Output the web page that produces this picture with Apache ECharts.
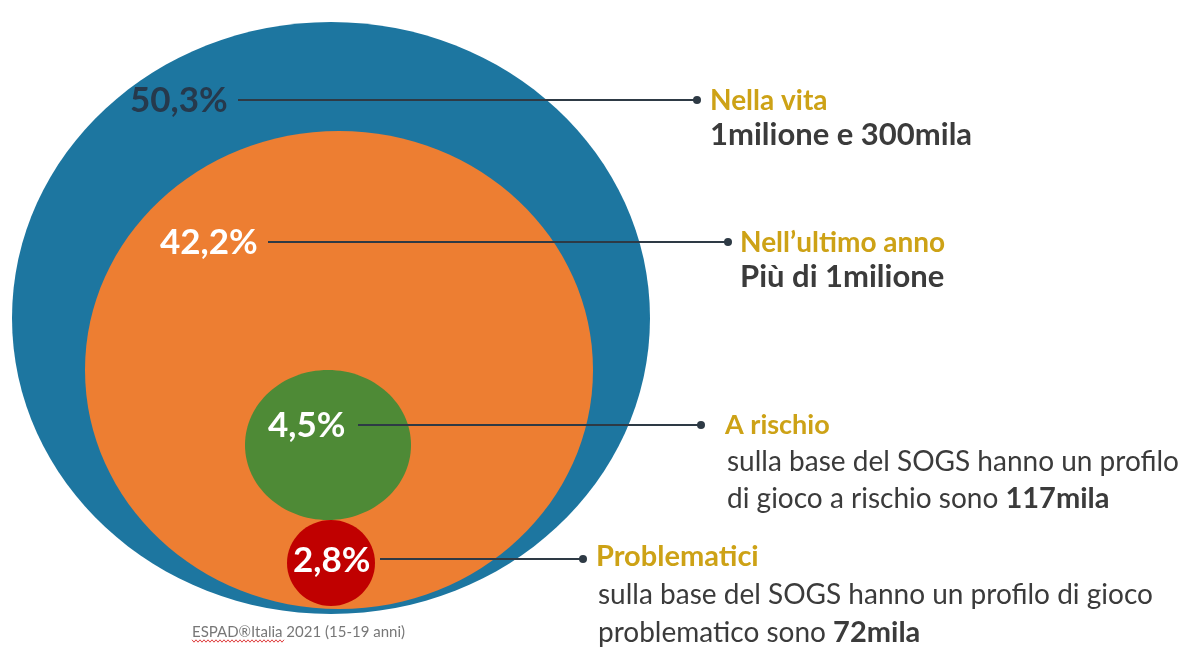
<!DOCTYPE html>
<html>
<head>
<meta charset="utf-8">
<title>Gioco d'azzardo tra gli studenti</title>
<script src="https://cdn.jsdelivr.net/npm/echarts@6/dist/echarts.min.js"></script>
<style>
  html, body { margin: 0; padding: 0; background: #ffffff; }
  #chart { width: 1192px; height: 648px; }
</style>
</head>
<body>
<div id="chart"></div>
<script>
// Prevalence among students aged 15-19 (ESPAD Italia 2021)
const percentLabels = ['50,3%', '42,2%', '4,5%', '2,8%'];
const percentValues = [50.3, 42.2, 4.5, 2.8];
const groupTitles = ['Nella vita', 'Nell\u2019ultimo anno', 'A rischio', 'Problematici'];
const detailLines = [
  [],
  [],
  ['sulla base del SOGS hanno un profilo', 'di gioco a rischio sono '],
  ['sulla base del SOGS hanno un profilo di gioco', 'problematico sono ']
];
const headcounts = ['1milione e 300mila', 'Pi\u00f9 di 1milione', '117mila', '72mila'];
const sourceNote = 'ESPAD\u00aeItalia 2021 (15-19 anni)';

// Diagram geometry, in the units of the hidden layout axes
const layout = {
  ellipses: [
    { c: [331, 318], r: [319, 296] },
    { c: [339, 370], r: [254, 239] },
    { c: [328, 445], r: [83, 75] },
    { c: [331, 563], r: [44, 43] }
  ],
  labelPos: [[130, 101], [160, 243], [268, 426], [293, 561]],
  leader: [[238, 697, 100], [268, 728, 242], [358, 701, 425], [380, 583, 559]],
  textLeft: [710, 740, 725, 596],
  titleY: [101, 243, 425, 557],
  lineGap: [34, 34, 37, 38],
  notePos: [192, 632],
  squiggle: [192, 284, 641]
};

const fillColors = ['#1d76a0', '#ed7e32', '#4e8a36', '#c00000'];
const labelColors = ['#26394c', '#ffffff', '#ffffff', '#ffffff'];
const titleSizes = [28, 28, 27, 29];
const gold = '#cda216';
const ink = '#3b3b3b';
const lineColor = '#2e3a45';
const FONT = 'Lato, "Open Sans", sans-serif';

const chart = echarts.init(document.getElementById('chart'), null, { renderer: 'canvas' });

const shapeData = layout.ellipses.map((e, i) => ({
  value: [e.c[0], e.c[1], e.r[0], e.r[1], percentValues[i]]
}));
const noteData = percentLabels.map((_, i) => ({ value: [i] }));

function renderShape(params, api) {
  const c = api.coord([api.value(0), api.value(1)]);
  const s = api.size([api.value(2), api.value(3)]);
  return {
    type: 'ellipse',
    shape: { cx: c[0], cy: c[1], rx: s[0], ry: s[1] },
    style: { fill: fillColors[params.dataIndex] }
  };
}

function renderNote(params, api) {
  const i = params.dataIndex;
  const lp = api.coord(layout.labelPos[i]);
  const ld = layout.leader[i];
  const a = api.coord([ld[0], ld[2]]);
  const b = api.coord([ld[1], ld[2]]);
  const children = [
    {
      type: 'text',
      style: {
        text: percentLabels[i], x: lp[0], y: lp[1],
        verticalAlign: 'middle', align: 'left',
        font: 'bold 35px ' + FONT, fill: labelColors[i]
      }
    },
    {
      type: 'line',
      shape: { x1: a[0], y1: a[1], x2: b[0], y2: b[1] },
      style: { stroke: lineColor, lineWidth: 2 }
    },
    {
      type: 'circle',
      shape: { cx: b[0], cy: b[1], r: 4 },
      style: { fill: lineColor }
    }
  ];
  const tl = api.coord([layout.textLeft[i], layout.titleY[i]]);
  children.push({
    type: 'text',
    style: {
      text: groupTitles[i], x: tl[0], y: tl[1],
      verticalAlign: 'middle', font: 'bold ' + titleSizes[i] + 'px ' + FONT, fill: gold
    }
  });
  const gap = api.size([0, layout.lineGap[i]])[1];
  const lines = detailLines[i];
  if (lines.length === 0) {
    children.push({
      type: 'text',
      style: {
        text: headcounts[i], x: tl[0], y: tl[1] + gap,
        verticalAlign: 'middle', font: 'bold 31px ' + FONT, fill: ink
      }
    });
  } else {
    lines.forEach((ln, k) => {
      const last = k === lines.length - 1;
      children.push({
        type: 'text',
        style: {
          text: last ? '{r|' + ln + '}{b|' + headcounts[i] + '}' : '{r|' + ln + '}',
          x: tl[0] + 2, y: tl[1] + gap * (k + 1),
          verticalAlign: 'middle',
          rich: {
            r: { font: '28px ' + FONT, fill: ink },
            b: { font: 'bold 29px ' + FONT, fill: ink }
          }
        }
      });
    });
  }
  return { type: 'group', children: children };
}

// spell-check style wavy underline beneath the survey name
function renderSquiggle(params, api) {
  const sq = layout.squiggle;
  const p0 = api.coord([sq[0], sq[2]]);
  const p1 = api.coord([sq[1], sq[2]]);
  const pts = [];
  for (let x = p0[0], k = 0; x <= p1[0]; x += 2, k++) {
    pts.push([x, p0[1] + (k % 2 ? 1.2 : -1.2)]);
  }
  return {
    type: 'polyline',
    shape: { points: pts },
    style: { stroke: '#e04040', lineWidth: 1, fill: null }
  };
}

const np = layout.notePos;

chart.setOption({
  animation: false,
  backgroundColor: '#ffffff',
  grid: { left: 0, right: 0, top: 0, bottom: 0 },
  xAxis: { type: 'value', min: 0, max: 1192, show: false },
  yAxis: { type: 'value', min: 0, max: 648, inverse: true, show: false },
  series: [
    {
      type: 'custom',
      name: 'cerchi',
      coordinateSystem: 'cartesian2d',
      renderItem: renderShape,
      data: shapeData,
      encode: { x: 0, y: 1 },
      silent: true,
      z: 1
    },
    {
      type: 'custom',
      name: 'etichette',
      coordinateSystem: 'cartesian2d',
      renderItem: renderNote,
      data: noteData,
      silent: true,
      z: 2
    },
    {
      type: 'custom',
      name: 'sottolineatura',
      coordinateSystem: 'cartesian2d',
      renderItem: renderSquiggle,
      data: [[0]],
      silent: true,
      z: 2
    },
    {
      type: 'scatter',
      name: 'fonte',
      data: [[np[0], np[1]]],
      symbolSize: 0,
      silent: true,
      label: {
        show: true,
        position: 'right',
        distance: 0,
        formatter: sourceNote,
        fontFamily: FONT,
        fontSize: 15,
        color: '#555555'
      },
      z: 3
    }
  ]
});
</script>
</body>
</html>
